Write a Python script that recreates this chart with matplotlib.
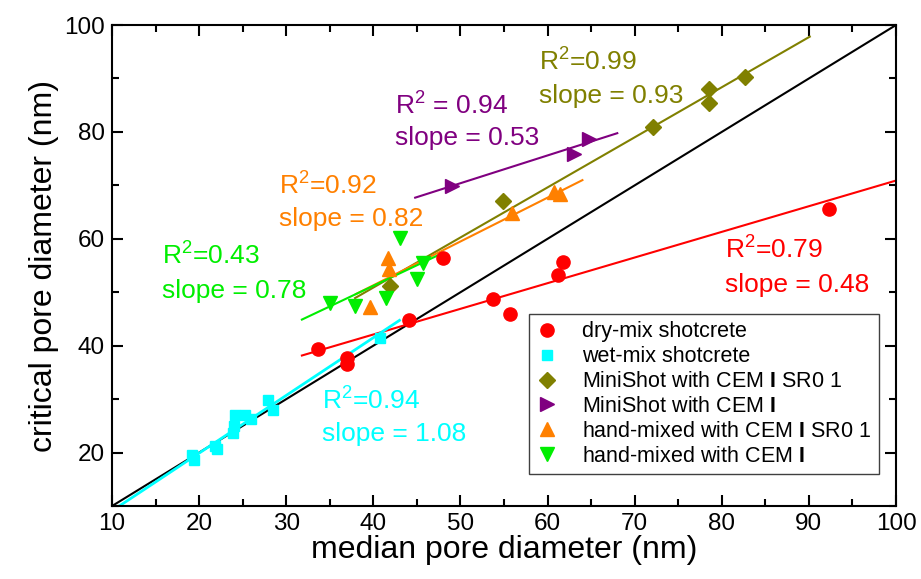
import matplotlib
matplotlib.use('Agg')
import matplotlib.pyplot as plt
from matplotlib.ticker import MultipleLocator

plt.rcParams['font.family'] = ['Liberation Sans', 'DejaVu Sans']
plt.rcParams['mathtext.fontset'] = 'custom'
plt.rcParams['mathtext.rm'] = 'Liberation Sans'
plt.rcParams['mathtext.bf'] = 'Liberation Sans:bold'

# dry-mix shotcrete
dryX = [33.7, 37.0, 37.0, 44.1, 48.0, 53.7, 55.7, 61.2, 61.8, 92.3]
dryY = [39.4, 37.7, 36.5, 44.9, 56.5, 48.7, 45.9, 53.2, 55.6, 65.6]
# wet-mix shotcrete
wetX = [19.2, 19.4, 21.8, 22.1, 23.9, 24.0, 24.1, 25.3, 25.9, 27.9, 28.5, 40.8]
wetY = [19.5, 18.7, 21.2, 20.6, 23.6, 24.9, 27.1, 27.0, 26.3, 29.9, 28.0, 41.5]
# MiniShot with CEM I SR0 1
miniSrX = [41.9, 54.9, 72.1, 78.5, 78.5, 82.7]
miniSrY = [51.2, 67.1, 80.9, 88.1, 85.4, 90.2]
# MiniShot with CEM I
miniX = [49.0, 63.0, 64.7]
miniY = [69.9, 75.9, 78.7]
# hand-mixed with CEM I SR0 1
handSrX = [39.6, 41.7, 41.8, 55.9, 60.7, 61.4]
handSrY = [47.2, 56.5, 54.3, 64.9, 68.7, 68.4]
# hand-mixed with CEM I
handX = [35.0, 37.9, 41.5, 43.1, 45.0, 45.7]
handY = [48.0, 47.4, 49.0, 60.2, 52.4, 55.5]

# linhas de ajuste: (x inicio, x fim, inclinacao, intercepto)
fitDry = (31.8, 100.0, 0.48, 22.9)
fitWet = (10.0, 43.0, 1.08, -1.7)
fitMiniSr = (37.9, 90.1, 0.937, 13.4)
fitMini = (44.8, 68.0, 0.52, 44.4)
fitHandSr = (38.0, 64.0, 0.82, 18.5)
fitHand = (31.8, 48.0, 0.77, 20.4)

# textos: (x, y da linha R2, y da linha slope, R2, slope, cor)
anotacoes = [
    (59.0, 91.7, 85.5, 'R$^2$=0.99', 'slope = 0.93', '#808000'),
    (42.5, 83.5, 77.5, 'R$^2$ = 0.94', 'slope = 0.53', '#800080'),
    (29.2, 68.4, 62.4, 'R$^2$=0.92', 'slope = 0.82', '#ff8000'),
    (15.7, 55.3, 48.9, 'R$^2$=0.43', 'slope = 0.78', '#00ee00'),
    (80.4, 56.4, 50.0, 'R$^2$=0.79', 'slope = 0.48', '#ff0000'),
    (34.1, 28.3, 22.1, 'R$^2$=0.94', 'slope = 1.08', '#00ffff'),
]

fig = plt.figure(figsize=(9.21, 5.79), dpi=100)
ax = fig.add_axes([0.1216, 0.126, 0.8513, 0.8308])


def linha(fit, cor, lw=1.5):
    x0, x1, a, b = fit
    ax.plot([x0, x1], [a * x0 + b, a * x1 + b], color=cor, lw=lw, zorder=2)


ax.plot([10, 100], [10, 100], color='black', lw=1.5, zorder=2)
linha(fitDry, '#ff0000')
linha(fitWet, '#00ffff', lw=2)
linha(fitMiniSr, '#808000')
linha(fitMini, '#800080')
linha(fitHandSr, '#ff8000')
linha(fitHand, '#00ee00')

cem = r'CEM $\mathbf{I}$'
ax.plot(dryX, dryY, 'o', color='#ff0000', ms=9.5, ls='none', label='dry-mix shotcrete', zorder=3)
ax.plot(wetX, wetY, 's', color='#00ffff', ms=7.5, ls='none', label='wet-mix shotcrete', zorder=3)
ax.plot(miniSrX, miniSrY, 'D', color='#808000', ms=8, ls='none', label='MiniShot with ' + cem + ' SR0 1', zorder=3)
ax.plot(miniX, miniY, '>', color='#800080', ms=10, ls='none', label='MiniShot with ' + cem, zorder=3)
ax.plot(handSrX, handSrY, '^', color='#ff8000', ms=10, ls='none', label='hand-mixed with ' + cem + ' SR0 1', zorder=3)
ax.plot(handX, handY, 'v', color='#00ee00', ms=10, ls='none', label='hand-mixed with ' + cem, zorder=3)

for x, y1, y2, r2, sl, cor in anotacoes:
    ax.text(x, y1, r2, color=cor, fontsize=19, va='baseline')
    ax.text(x, y2, sl, color=cor, fontsize=19, va='baseline')

ax.set_xlim(10, 100)
ax.set_ylim(10, 100)
ax.xaxis.set_major_locator(MultipleLocator(10))
ax.xaxis.set_minor_locator(MultipleLocator(5))
ax.yaxis.set_major_locator(MultipleLocator(20))
ax.yaxis.set_minor_locator(MultipleLocator(10))
ax.tick_params(which='both', direction='in', top=True, right=True, width=1.5, labelsize=17.5)
ax.tick_params(which='major', length=8, pad=5)
ax.tick_params(which='minor', length=5)
for s in ax.spines.values():
    s.set_linewidth(1.5)

ax.set_xlabel('median pore diameter (nm)', fontsize=23, labelpad=0)
ax.set_ylabel('critical pore diameter (nm)', fontsize=23, labelpad=4)

leg = ax.legend(loc='lower right', bbox_to_anchor=(0.978, 0.066), fontsize=15.5,
                fancybox=False, edgecolor='#404040', framealpha=1,
                handletextpad=1.15, borderpad=0.35, labelspacing=0.18,
                handlelength=1.0, borderaxespad=0)
leg.get_frame().set_linewidth(1.0)

fig.savefig('out.png', dpi=100)
